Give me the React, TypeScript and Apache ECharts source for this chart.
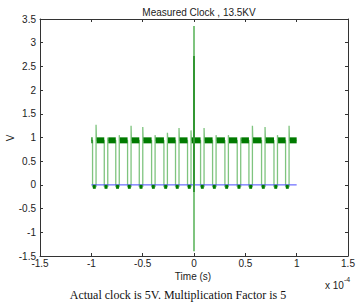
import React, { useEffect, useRef } from "react";
import * as echarts from "echarts";

// time in units of 1e-4 s
const dipTimes = [-0.971, -0.857, -0.745, -0.63, -0.516, -0.396, -0.276, -0.163, -0.046, 0.081, 0.198, 0.318, 0.438, 0.552, 0.675, 0.796, 0.909];
const risePeaks = [1.27, 1.0, 1.05, 1.25, 1.22, 1.05, 1.1, 1.2, 1.15, 1.2, 1.05, 1.05, 1.0, 1.25, 1.22, 1.05, 1.25];
const clockSpan = [-1, 1];
const levels = { high: 0.94, low: -0.04 };
const spikeLight = [-1.4, 3.35];
const spikeDark = [-0.15, 2.72];
const baseline = [[-1, 0], [1, 0]];

const HALF = 0.017;

function buildLight(): number[][] {
  const pts: number[][] = [[clockSpan[0], levels.high]];
  dipTimes.forEach((d, i) => {
    const f = d - HALF;
    const r = d + HALF;
    pts.push([f, levels.high], [f, levels.low], [r, levels.low], [r, risePeaks[i]], [r + 0.004, levels.high]);
  });
  pts.push([clockSpan[1], levels.high]);
  return pts;
}

function buildDarkHigh() {
  const segs: { coords: number[][] }[] = [];
  let start = clockSpan[0];
  dipTimes.forEach((d) => {
    segs.push({ coords: [[start, levels.high], [d - HALF, levels.high]] });
    start = d + HALF + 0.006;
  });
  segs.push({ coords: [[start, levels.high], [clockSpan[1], levels.high]] });
  return segs;
}

function buildDarkLow() {
  return dipTimes.map((d) => ({ coords: [[d - 0.014, levels.low], [d + 0.014, levels.low]] }));
}

export default function App() {
  const ref = useRef<HTMLDivElement>(null);
  useEffect(() => {
    if (!ref.current) return;
    const chart = echarts.init(ref.current, undefined, { renderer: "svg" });
    const axisColor = "#333";
    const font = "Liberation Sans";
    const xCommon = {
      type: "value" as const,
      min: -1.5,
      max: 1.5,
      interval: 0.5,
      splitLine: { show: false },
      axisLine: { onZero: false, lineStyle: { color: axisColor, width: 1 } },
      axisTick: { inside: true, length: 3, lineStyle: { color: axisColor } },
    };
    const yCommon = {
      type: "value" as const,
      min: -1.5,
      max: 3.5,
      interval: 0.5,
      splitLine: { show: false },
      axisLine: { onZero: false, lineStyle: { color: axisColor, width: 1 } },
      axisTick: { inside: true, length: 3, lineStyle: { color: axisColor } },
    };
    chart.setOption({
      animation: false,
      backgroundColor: "#fff",
      title: {
        text: "Measured Clock , 13.5KV",
        left: 194,
        textAlign: "center",
        top: 2,
        textStyle: { fontSize: 10, fontWeight: "normal", color: "#222", fontFamily: font },
      },
      grid: { left: 40, right: 14, top: 19, bottom: 51, containLabel: false },
      xAxis: [
        {
          ...xCommon,
          position: "bottom",
          axisLabel: { fontSize: 10, color: "#222", fontFamily: font, margin: 2 },
        },
        { ...xCommon, position: "top", axisLabel: { show: false } },
      ],
      yAxis: [
        {
          ...yCommon,
          position: "left",
          axisLabel: { fontSize: 10, color: "#222", fontFamily: font, margin: 4 },
        },
        { ...yCommon, position: "right", axisLabel: { show: false } },
      ],
      series: [
        {
          type: "line",
          data: buildLight(),
          showSymbol: false,
          symbol: "none",
          lineStyle: { color: "#7fc47f", width: 1.3 },
          z: 1,
        },
        {
          type: "line",
          data: baseline,
          symbol: "none",
          lineStyle: { color: "#4a4aff", width: 1 },
          z: 2,
        },
        {
          type: "lines",
          coordinateSystem: "cartesian2d",
          polyline: true,
          data: buildDarkHigh(),
          lineStyle: { color: "#007a00", width: 6, opacity: 1 },
          z: 3,
        },
        {
          type: "lines",
          coordinateSystem: "cartesian2d",
          polyline: true,
          data: buildDarkLow(),
          lineStyle: { color: "#007a00", width: 4, opacity: 1 },
          z: 3,
        },
        {
          type: "line",
          data: [[0, spikeLight[0]], [0, spikeLight[1]]],
          symbol: "none",
          lineStyle: { color: "#7fc47f", width: 2 },
          z: 4,
        },
        {
          type: "line",
          data: [[0, spikeDark[0]], [0, spikeDark[1]]],
          symbol: "none",
          lineStyle: { color: "#007a00", width: 1.2 },
          z: 5,
        },
      ],
      graphic: [
        {
          type: "text",
          x: 10,
          y: 138,
          rotation: Math.PI / 2,
          style: { text: "V", fontSize: 10, fill: "#222", fontFamily: font, align: "center", verticalAlign: "middle" },
        },
        {
          type: "text",
          x: 193,
          y: 276,
          style: { text: "Time (s)", fontSize: 10, fill: "#222", fontFamily: font, align: "center", verticalAlign: "middle" },
        },
        {
          type: "text",
          x: 325,
          y: 276,
          style: {
            text: "{a|x 10}{b|-4}",
            fill: "#222",
            fontFamily: font,
            rich: {
              a: { fontSize: 10, fontFamily: font, fill: "#222", padding: [4, 0, 0, 0] },
              b: { fontSize: 7, fontFamily: font, fill: "#222", verticalAlign: "top", padding: [0, 0, 6, 0] },
            },
          },
        },
        {
          type: "text",
          x: 178,
          y: 295,
          style: {
            text: "Actual clock is 5V. Multiplication Factor is 5",
            fontSize: 12,
            fill: "#111",
            fontFamily: "Liberation Serif",
            align: "center",
            verticalAlign: "middle",
          },
        },
      ],
    });
    return () => chart.dispose();
  }, []);
  return <div ref={ref} style={{ width: 362, height: 307, position: "absolute", left: 0, top: 0 }} />;
}
